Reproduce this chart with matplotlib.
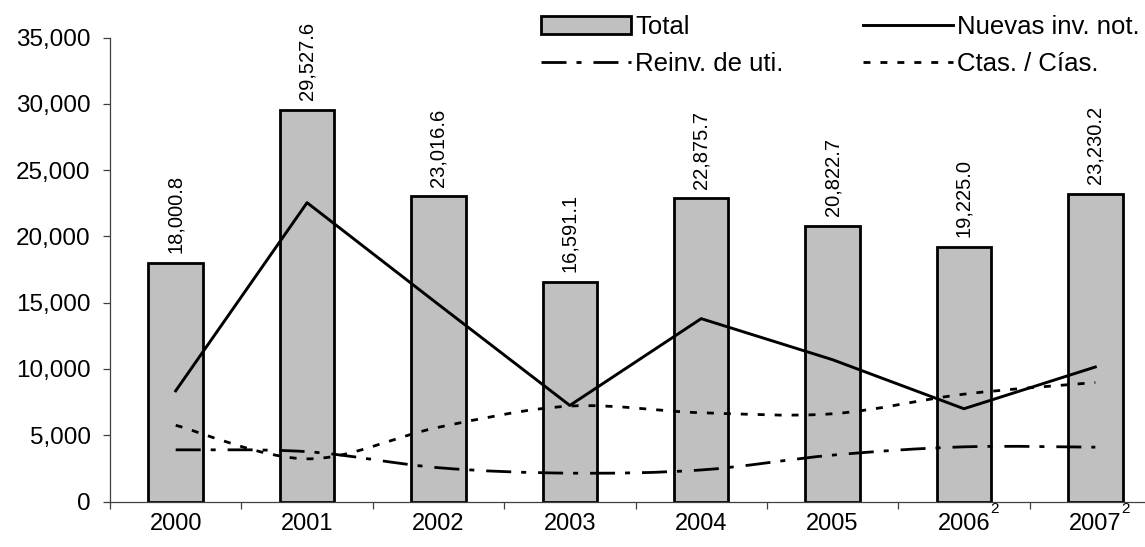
import numpy as np
import matplotlib
matplotlib.use("Agg")
import matplotlib.pyplot as plt
from matplotlib.path import Path
from matplotlib.patches import PathPatch, Patch
from matplotlib.lines import Line2D
from matplotlib.ticker import FuncFormatter

plt.rcParams['font.family'] = ['Liberation Sans', 'DejaVu Sans']

# datos
years = ['2000', '2001', '2002', '2003', '2004', '2005', '2006', '2007']
sup_years = ['2006', '2007']  # con nota 2
total = [18000.8, 29527.6, 23016.6, 16591.1, 22875.7, 20822.7, 19225.0, 23230.2]
nuevas = [8350, 22550, 14870, 7250, 13800, 10700, 7000, 10150]
reinv = [3900, 3760, 2550, 2140, 2380, 3500, 4125, 4100]
ctas = [5750, 3220, 5600, 7200, 6700, 6620, 8100, 8980]
label_total = 'Total'
label_nuevas = 'Nuevas inv. not.'
label_reinv = 'Reinv. de uti.'
label_ctas = 'Ctas. / Cías.'


def smooth_path(xs, ys):
    # curva suavizada tipo Excel (bezier por los puntos)
    p = np.column_stack([xs, ys]).astype(float)
    n = len(p)
    verts = [p[0]]
    codes = [Path.MOVETO]
    for i in range(n - 1):
        p_prev = p[max(i - 1, 0)]
        p_next2 = p[min(i + 2, n - 1)]
        c1 = p[i] + (p[i + 1] - p_prev) / 6.0
        c2 = p[i + 1] - (p_next2 - p[i]) / 6.0
        verts += [c1, c2, p[i + 1]]
        codes += [Path.CURVE4] * 3
    return Path(verts, codes)


W, H = 1145, 547
fig = plt.figure(figsize=(W / 100, H / 100), dpi=100)
ax = fig.add_axes([110 / W, 1 - 501.5 / H, (1161 - 110) / W, (501.5 - 37.7) / H])

x = np.arange(len(years))
ax.bar(x, total, width=0.415, color='#c0c0c0', edgecolor='black', linewidth=2, zorder=2)

ax.plot(x, nuevas, color='black', linewidth=2.1, zorder=3)

dashdot = (0, (9, 3.6, 1.8, 4.3))
dots = (0, (2.5, 3.6))
ax.add_patch(PathPatch(smooth_path(x, reinv), fill=False, edgecolor='black', linewidth=2,
                       linestyle=dashdot, capstyle='butt', zorder=3))
ax.add_patch(PathPatch(smooth_path(x, ctas), fill=False, edgecolor='black', linewidth=2,
                       linestyle=dots, capstyle='butt', zorder=3))

# etiquetas de valores
for xi, v in zip(x, total):
    ax.annotate(f'{v:,.1f}', xy=(xi, v), xytext=(0, 7), textcoords='offset points',
                rotation=90, ha='center', va='bottom', fontsize=14.5)

ax.set_xlim(-0.5, len(years) - 0.5)
ax.set_ylim(0, 35000)
ax.set_yticks(np.arange(0, 35001, 5000))
ax.yaxis.set_major_formatter(FuncFormatter(lambda v, p: f'{int(v):,}'))
ax.set_xticks(x)
ax.set_xticklabels(years)
ax.set_xticks(np.arange(-0.5, len(years), 1), minor=True)
ax.tick_params(axis='x', which='major', length=0, pad=8, labelsize=17)
ax.tick_params(axis='x', which='minor', length=5, width=0.9, color='#404040', direction='out')
ax.tick_params(axis='y', length=5, width=0.9, color='#404040', pad=9, labelsize=17.5)

for yr in sup_years:
    i = years.index(yr)
    ax.annotate('2', xy=(i, 0), xytext=(19, -0.5), textcoords='offset points',
                ha='left', va='top', fontsize=11)

for s in ['top', 'right']:
    ax.spines[s].set_visible(False)
for s in ['left', 'bottom']:
    ax.spines[s].set_color('#404040')
    ax.spines[s].set_linewidth(0.9)

handles = [
    Patch(facecolor='#c0c0c0', edgecolor='black', linewidth=2),
    Line2D([], [], color='black', linewidth=2, linestyle=dashdot),
    Line2D([], [], color='black', linewidth=2.1),
    Line2D([], [], color='black', linewidth=2, linestyle=dots),
]
labels = [label_total, label_reinv, label_nuevas, label_ctas]
fig.legend(handles, labels, ncol=2, loc='upper left', bbox_to_anchor=(541 / W, 1 - 15 / H),
           frameon=False, fontsize=18.5, handlelength=3.5, handletextpad=0.16,
           columnspacing=3.1, labelspacing=0.52, borderpad=0, borderaxespad=0)

fig.savefig('out.png', dpi=100)
